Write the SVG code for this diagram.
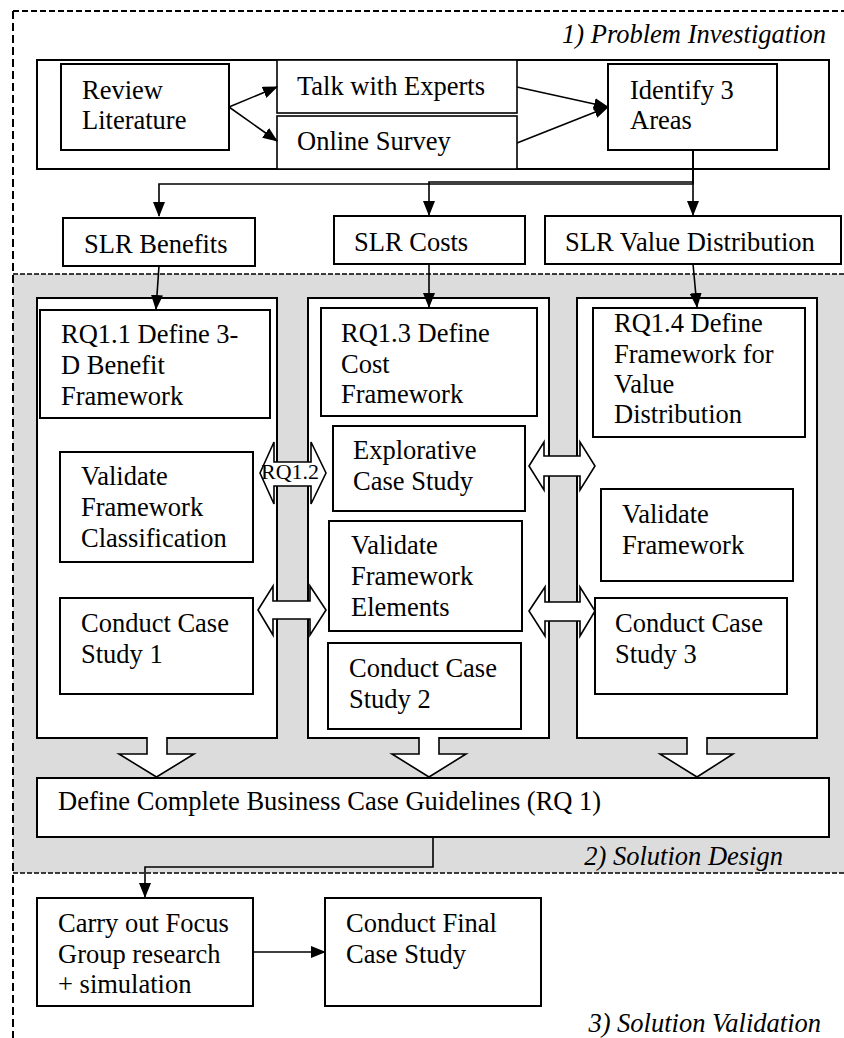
<svg xmlns="http://www.w3.org/2000/svg" width="844" height="1038" viewBox="0 0 844 1038">
<defs>
<style>
.t{font-family:"Liberation Serif","Times New Roman",serif;font-size:26.5px;fill:#000}
.i{font-style:italic;text-anchor:end}
.b{fill:#fff;stroke:#000;stroke-width:2}
.d{fill:none;stroke:#000}
.c{fill:none;stroke:#000;stroke-width:1.6}
.ba{fill:#fff;stroke:#000;stroke-width:1.6;stroke-linejoin:miter}
.s{font-size:22px}
</style>
<marker id="ah" markerUnits="userSpaceOnUse" markerWidth="15" markerHeight="12" refX="14" refY="6" orient="auto">
<path d="M0,0 L15,6 L0,12 Z" fill="#000"/>
</marker>
</defs>
<rect width="844" height="1038" fill="#fff"/>
<g id="phases">
<rect x="13" y="274" width="831" height="599" fill="#dcdcdc"/>
<path class="d" d="M13,11 H844" stroke-width="2" stroke-dasharray="6 3"/>
<path class="d" d="M13,11 V1038" stroke-width="2" stroke-dasharray="8 4"/>
<path class="d" d="M13,274 H844 M13,873 H844" stroke-width="1.5" stroke-dasharray="5 2"/>
<text class="t i" x="826" y="43">1) Problem Investigation</text>
<text class="t i" x="783" y="865">2) Solution Design</text>
<text class="t i" x="821" y="1032">3) Solution Validation</text>
</g>
<g id="investigation">
<rect class="b" x="37" y="60" width="792" height="109"/>
</g>
<g id="review"><rect class="b" x="61" y="64" width="168" height="86"/><text class="t" x="82" y="99">Review</text><text class="t" x="82" y="129">Literature</text></g>
<g id="talk"><rect class="b" x="277" y="60" width="240" height="53" style="stroke-width:1.6"/><text class="t" x="297" y="95">Talk with Experts</text></g>
<g id="survey"><rect class="b" x="277" y="116" width="240" height="53" style="stroke-width:1.6"/><text class="t" x="297" y="150">Online Survey</text></g>
<g id="identify"><rect class="b" x="608" y="64" width="169" height="86"/><text class="t" x="630" y="99">Identify 3</text><text class="t" x="630" y="129">Areas</text></g>
<g id="slr-benefits"><rect class="b" x="63" y="218" width="192" height="48"/><text class="t" x="84" y="253">SLR Benefits</text></g>
<g id="slr-costs"><rect class="b" x="334" y="216" width="191" height="48"/><text class="t" x="354" y="251">SLR Costs</text></g>
<g id="slr-value"><rect class="b" x="545" y="216" width="296" height="48"/><text class="t" x="565" y="251">SLR Value Distribution</text></g>
<g id="col1"><rect class="b" x="37" y="298" width="240" height="440"/></g>
<g id="col2"><rect class="b" x="308" y="298" width="241" height="440"/></g>
<g id="col3"><rect class="b" x="577" y="298" width="240" height="440"/></g>
<g id="rq12">
<path class="ba" d="M260,473 L274,442 V462 H311 V442 L326,473 L311,504 V486 H274 V504 Z"/>
<text class="t s" x="261" y="479">RQ1.2</text>
</g>
<g id="link-explorative"><path class="ba" d="M529,466 L544,442 V456 H580 V442 L595,466 L580,490 V476 H544 V490 Z"/></g>
<g id="link-cs1"><path class="ba" d="M258,610 L273,586 V601 H310 V586 L326,610 L310,635 V619 H273 V635 Z"/></g>
<g id="link-cs3"><path class="ba" d="M529,611 L545,587 V602 H580 V587 L595,611 L580,636 V621 H545 V636 Z"/></g>
<g id="rq11"><rect class="b" x="40" y="310" width="230" height="108"/><text class="t" x="61" y="343">RQ1.1 Define 3-</text><text class="t" x="61" y="374">D Benefit</text><text class="t" x="61" y="405">Framework</text></g>
<g id="rq13"><rect class="b" x="321" y="308" width="216" height="108"/><text class="t" x="341" y="342">RQ1.3 Define</text><text class="t" x="341" y="373">Cost</text><text class="t" x="341" y="403">Framework</text></g>
<g id="rq14"><rect class="b" x="593" y="308" width="212" height="129"/><text class="t" x="614" y="332">RQ1.4 Define</text><text class="t" x="614" y="363">Framework for</text><text class="t" x="614" y="393">Value</text><text class="t" x="614" y="423">Distribution</text></g>
<g id="validate-class"><rect class="b" x="60" y="452" width="193" height="110"/><text class="t" x="81" y="485">Validate</text><text class="t" x="81" y="516">Framework</text><text class="t" x="81" y="547">Classification</text></g>
<g id="explorative"><rect class="b" x="333" y="426" width="192" height="85"/><text class="t" x="353" y="459">Explorative</text><text class="t" x="353" y="490">Case Study</text></g>
<g id="validate-elem"><rect class="b" x="329" y="521" width="193" height="110"/><text class="t" x="351" y="554">Validate</text><text class="t" x="351" y="585">Framework</text><text class="t" x="351" y="616">Elements</text></g>
<g id="validate-fw"><rect class="b" x="601" y="489" width="192" height="92"/><text class="t" x="622" y="523">Validate</text><text class="t" x="622" y="554">Framework</text></g>
<g id="cs1"><rect class="b" x="60" y="598" width="193" height="96"/><text class="t" x="81" y="632">Conduct Case</text><text class="t" x="81" y="663">Study 1</text></g>
<g id="cs2"><rect class="b" x="328" y="643" width="193" height="86"/><text class="t" x="349" y="677">Conduct Case</text><text class="t" x="349" y="708">Study 2</text></g>
<g id="cs3"><rect class="b" x="595" y="598" width="192" height="96"/><text class="t" x="615" y="632">Conduct Case</text><text class="t" x="615" y="663">Study 3</text></g>
<g id="down-arrows">
<path class="ba" d="M147,737 V754 H119 L156.5,777 L194,754 H167 V737"/>
<path class="ba" d="M419,737 V754 H392 L429,777 L466,754 H439 V737"/>
<path class="ba" d="M687,737 V754 H660 L697,777 L733,754 H707 V737"/>
</g>
<g id="define"><rect class="b" x="37" y="778" width="792" height="59"/><text class="t" x="58" y="810">Define Complete Business Case Guidelines (RQ 1)</text></g>
<g id="focus"><rect class="b" x="37" y="898" width="216" height="108"/><text class="t" x="58" y="932">Carry out Focus</text><text class="t" x="58" y="963">Group research</text><text class="t" x="58" y="993">+ simulation</text></g>
<g id="final"><rect class="b" x="325" y="898" width="216" height="108"/><text class="t" x="346" y="932">Conduct Final</text><text class="t" x="346" y="963">Case Study</text></g>
<g id="connectors">
<path class="c" d="M229,107 L277,87" marker-end="url(#ah)"/>
<path class="c" d="M229,107 L277,141" marker-end="url(#ah)"/>
<path class="c" d="M517,87 L608,107" marker-end="url(#ah)"/>
<path class="c" d="M517,143 L608,107" marker-end="url(#ah)"/>
<path class="c" d="M693,150 V184 H159 V216" marker-end="url(#ah)"/>
<path class="c" d="M693,150 V182 H429 V215" marker-end="url(#ah)"/>
<path class="c" d="M693,150 V215" marker-end="url(#ah)"/>
<path class="c" d="M159,266 L156,309" marker-end="url(#ah)"/>
<path class="c" d="M429,264 V307" marker-end="url(#ah)"/>
<path class="c" d="M693,264 L697,307" marker-end="url(#ah)"/>
<path class="c" d="M433,837 V867 H145 V897" marker-end="url(#ah)"/>
<path class="c" d="M253,952 H325" marker-end="url(#ah)"/>
</g>
</svg>
